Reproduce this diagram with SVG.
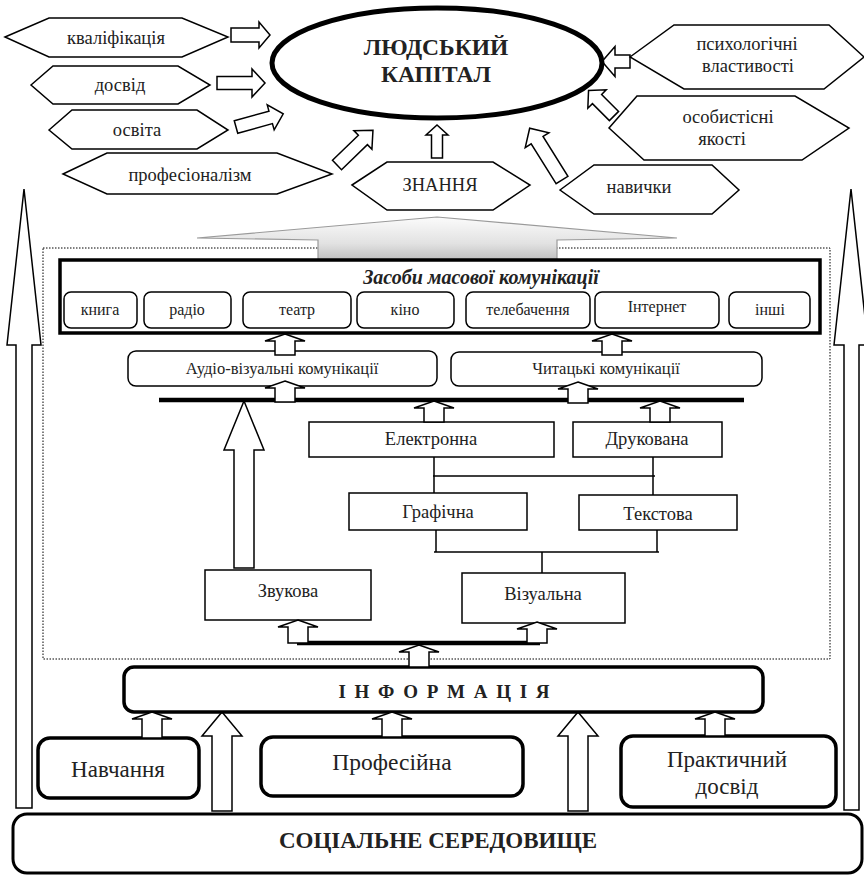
<svg xmlns="http://www.w3.org/2000/svg" width="864" height="875" viewBox="0 0 864 875" font-family="'Liberation Serif', 'DejaVu Serif', serif">
<defs>
<linearGradient id="gray" x1="0" y1="0" x2="0" y2="1">
<stop offset="0" stop-color="#fbfbfb"/>
<stop offset="0.6" stop-color="#e2e2e2"/>
<stop offset="1" stop-color="#bdbdbd"/>
</linearGradient>
</defs>
<style>
text{font-family:'Liberation Serif','DejaVu Serif',serif}
.t{fill:#222;text-anchor:middle}
.b{font-weight:bold}
.hex{fill:#fff;stroke:#000;stroke-width:1.5}
.arr{fill:#fff;stroke:#000;stroke-width:1.5;stroke-linejoin:miter}
.box{fill:#fff;stroke:#000;stroke-width:1.5}
.ln{stroke:#000;stroke-width:1.5;fill:none}
.bar{stroke:#000;stroke-width:4.5;fill:none}
.h{font-size:18.5px}
.m{font-size:16px}
.c{font-size:16.5px}
.s{font-size:18.5px}
.L{font-size:23.5px}
</style>
<rect width="864" height="875" fill="#fff"/>

<g id="dotted-frame"><rect x="43" y="248" width="787" height="411" fill="none" stroke="#000" stroke-width="1" stroke-dasharray="1.5 1.5"/></g>

<g id="connectors">
<path class="arr" d="M24,189 L41,345 L32,345 L32,808 L16,808 L16,345 L7,345 Z"/>
<path class="arr" d="M851,189 L868,345 L859,345 L859,810 L844,810 L844,345 L834,345 Z"/>
<path d="M437,217 L677,238 L557,240 L557,261 L318,261 L318,240 L197,238 Z" fill="url(#gray)" stroke="#9a9a9a" stroke-width="1.2"/>
<path class="arr" transform="translate(231,35)" d="M0,-7 L28,-7 L28,-13 L39,0 L28,13 L28,7 L0,7 Z"/>
<path class="arr" transform="translate(217,83)" d="M0,-6.5 L35,-6.5 L35,-14 L48,0 L35,14 L35,6.5 L0,6.5 Z"/>
<path class="arr" transform="translate(236,127) rotate(-15.5)" d="M0,-6.5 L36,-6.5 L36,-13 L49,0 L36,13 L36,6.5 L0,6.5 Z"/>
<path class="arr" transform="translate(337,165) rotate(-44)" d="M0,-6.5 L36,-6.5 L36,-13 L50,0 L36,13 L36,6.5 L0,6.5 Z"/>
<path class="arr" transform="translate(437,158) rotate(-90)" d="M0,-5.5 L23,-5.5 L23,-11 L33,0 L23,11 L23,5.5 L0,5.5 Z"/>
<path class="arr" transform="translate(562,180) rotate(-122)" d="M0,-7 L47,-7 L47,-14 L61,0 L47,14 L47,7 L0,7 Z"/>
<path class="arr" transform="translate(614,116) rotate(-135)" d="M0,-6.5 L24,-6.5 L24,-13 L36,0 L24,13 L24,6.5 L0,6.5 Z"/>
<path class="arr" transform="translate(630,61.5) rotate(180)" d="M0,-6.5 L15,-6.5 L15,-15 L28,0 L15,15 L15,6.5 L0,6.5 Z"/>
<line class="bar" x1="159" y1="400" x2="744" y2="400"/>
<line class="bar" x1="297" y1="643" x2="540" y2="643"/>
<path class="ln" d="M434,457 V493 M653,457 V495 M433,476 H655"/>
<path class="ln" d="M436,530 V552 M657,530 V552 M434,552 H659 M542,552 V573"/>
<path class="arr" d="M244,401 L264,450 L254,450 L254,568 L234,568 L234,450 L224,450 Z"/>
<path class="arr" d="M222,712 L242,736 L232,736 L232,811 L212,811 L212,736 L202,736 Z"/>
<path class="arr" d="M578,712 L598,736 L588,736 L588,811 L568,811 L568,736 L558,736 Z"/>
</g>

<g id="lyudskyi-kapital">
<ellipse cx="437" cy="63" rx="165" ry="55" fill="#fff" stroke="#000" stroke-width="5"/>
<text class="t b L" x="436" y="55">ЛЮДСЬКИЙ</text>
<text class="t b L" x="436" y="82">КАПІТАЛ</text>
</g>
<g id="kvalifikatsiya"><polygon class="hex" points="5,37 49,18 182,18 228,37 182,57 49,57"/><text class="t h" x="116" y="44">кваліфікація</text></g>
<g id="dosvid"><polygon class="hex" points="31,85 53,66 178,66 210,85 178,104 53,104"/><text class="t h" x="120" y="91">досвід</text></g>
<g id="osvita"><polygon class="hex" points="49,130 72,110 197,110 228,130 197,149 72,149"/><text class="t h" x="137" y="136">освіта</text></g>
<g id="profesionalizm"><polygon class="hex" points="63,174 107,153 277,153 332,174 277,194 107,194"/><text class="t h" x="190" y="181">професіоналізм</text></g>
<g id="znannya"><polygon class="hex" points="352,185 387,162 493,162 530,185 493,210 387,210"/><text class="t h" x="440" y="191">ЗНАННЯ</text></g>
<g id="navychky"><polygon class="hex" points="560,190 594,165 712,165 739,190 712,214 594,214"/><text class="t h" x="639" y="193">навички</text></g>
<g id="psykholohichni"><polygon class="hex" points="630,57 674,25 829,25 864,57 824,89 684,89"/><text class="t h" x="747" y="50">психологічні</text><text class="t h" x="748" y="72">властивості</text></g>
<g id="osobystisni"><polygon class="hex" points="609,128 637,96 795,96 849,128 802,160 644,160"/><text class="t h" x="728" y="123">особистісні</text><text class="t h" x="722" y="145">якості</text></g>

<g id="zasoby">
<rect x="60" y="260" width="760" height="73" fill="#fff" stroke="#000" stroke-width="3.5"/>
<text class="t b" x="481" y="284" font-size="20" font-style="italic">Засоби масової комунікації</text>
</g>
<g id="knyha"><rect class="box" x="64" y="292" width="73" height="36" rx="7"/><text class="t m" x="100" y="315">книга</text></g>
<g id="radio"><rect class="box" x="144" y="292" width="87" height="36" rx="7"/><text class="t m" x="187" y="315">радіо</text></g>
<g id="teatr"><rect class="box" x="243" y="292" width="108" height="36" rx="7"/><text class="t m" x="297" y="315">театр</text></g>
<g id="kino"><rect class="box" x="357" y="292" width="97" height="36" rx="7"/><text class="t m" x="405" y="315">кіно</text></g>
<g id="telebachennya"><rect class="box" x="466" y="292" width="124" height="36" rx="7"/><text class="t m" x="528" y="315">телебачення</text></g>
<g id="internet"><rect class="box" x="595" y="292" width="124" height="36" rx="7"/><text class="t m" x="657" y="312">Інтернет</text></g>
<g id="inshi"><rect class="box" x="729" y="292" width="81" height="36" rx="7"/><text class="t m" x="770" y="315">інші</text></g>

<g id="audio-vizualni"><rect class="box" x="128" y="351" width="309" height="35" rx="8"/><text class="t c" x="282" y="374">Аудіо-візуальні комунікації</text></g>
<g id="chytatski"><rect class="box" x="451" y="352" width="311" height="34" rx="8"/><text class="t c" x="606" y="374">Читацькі комунікації</text></g>

<g id="elektronna"><rect class="box" x="309" y="422" width="245" height="35"/><text class="t s" x="431" y="445">Електронна</text></g>
<g id="drukovana"><rect class="box" x="573" y="422" width="149" height="35"/><text class="t s" x="647" y="445">Друкована</text></g>
<g id="hrafichna"><rect class="box" x="349" y="493" width="178" height="37"/><text class="t s" x="438" y="518">Графічна</text></g>
<g id="tekstova"><rect class="box" x="579" y="495" width="158" height="35"/><text class="t s" x="658" y="520">Текстова</text></g>
<g id="zvukova"><rect class="box" x="205" y="570" width="166" height="50"/><text class="t s" x="288" y="597">Звукова</text></g>
<g id="vizualna"><rect class="box" x="462" y="573" width="163" height="50"/><text class="t s" x="543" y="600">Візуальна</text></g>

<g id="informatsiya"><rect x="124" y="667" width="639" height="45" rx="10" fill="#fff" stroke="#000" stroke-width="3.5"/><text class="t b" x="445" y="698" font-size="19" letter-spacing="2">І Н Ф О Р М А Ц І Я</text></g>
<g id="navchannya"><rect x="38" y="738" width="161" height="60" rx="12" fill="#fff" stroke="#000" stroke-width="3.5"/><text class="t" x="118" y="777" font-size="23">Навчання</text></g>
<g id="profesiyna"><rect x="261" y="737" width="262" height="59" rx="12" fill="#fff" stroke="#000" stroke-width="3.5"/><text class="t" x="392" y="770" font-size="23.5">Професійна</text></g>
<g id="praktychnyi"><rect x="621" y="736" width="215" height="71" rx="12" fill="#fff" stroke="#000" stroke-width="3.5"/><text class="t" x="727" y="767" font-size="23">Практичний</text><text class="t" x="727" y="794" font-size="23">досвід</text></g>
<g id="sotsialne"><rect x="13" y="814" width="849" height="59" rx="14" fill="#fff" stroke="#000" stroke-width="3"/><text class="t b" x="438" y="848" font-size="23">СОЦІАЛЬНЕ СЕРЕДОВИЩЕ</text></g>

<g id="small-arrows">
<path class="arr" d="M285,334 L305,341 L295,341 L295,355 L275,355 L275,341 L265,341 Z"/>
<path class="arr" d="M612,334 L632,341 L622,341 L622,355 L602,355 L602,341 L592,341 Z"/>
<path class="arr" d="M285,381 L305,388 L295,388 L295,402 L275,402 L275,388 L265,388 Z"/>
<path class="arr" d="M578,382 L598,389 L588,389 L588,403 L568,403 L568,389 L558,389 Z"/>
<path class="arr" d="M434,401 L454,408 L444,408 L444,422 L424,422 L424,408 L414,408 Z"/>
<path class="arr" d="M660,401 L680,408 L670,408 L670,422 L650,422 L650,408 L640,408 Z"/>
<path class="arr" d="M298,620 L318,627 L308,627 L308,643 L288,643 L288,627 L278,627 Z"/>
<path class="arr" d="M537,622 L557,629 L547,629 L547,643 L527,643 L527,629 L517,629 Z"/>
<path class="arr" d="M419,645 L439,652 L429,652 L429,667 L409,667 L409,652 L399,652 Z"/>
<path class="arr" d="M152,712 L172,719 L162,719 L162,738 L142,738 L142,719 L132,719 Z"/>
<path class="arr" d="M392,712 L412,719 L402,719 L402,737 L382,737 L382,719 L372,719 Z"/>
<path class="arr" d="M715,712 L735,719 L725,719 L725,736 L705,736 L705,719 L695,719 Z"/>
</g>
</svg>
